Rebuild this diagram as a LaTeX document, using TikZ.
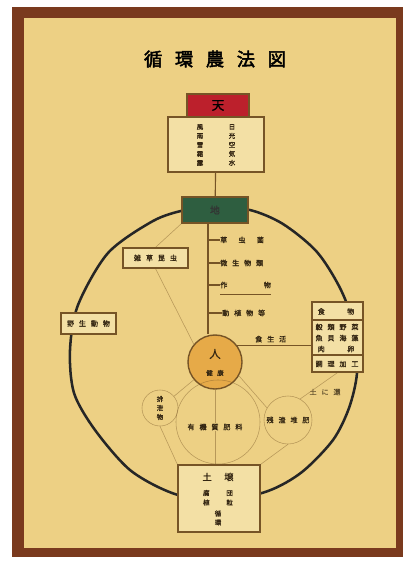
\documentclass[tikz,border=0pt]{standalone}
\usepackage{fontspec}
\usetikzlibrary{positioning}
\newfontfamily\jp[FakeBold=1.2]{Noto Sans CJK JP}
\newfontfamily\jptitle[FakeBold=2.5]{Noto Sans CJK JP}
\newfontfamily\jpwide[LetterSpace=70,FakeBold=1.2]{Noto Sans CJK JP}
\definecolor{paper}{RGB}{237,208,132}
\definecolor{boxpaper}{RGB}{243,224,165}
\definecolor{frame}{RGB}{122,58,30}
\definecolor{ink}{RGB}{118,84,38}
\definecolor{txtink}{RGB}{52,38,18}
\definecolor{tenred}{RGB}{188,32,44}
\definecolor{chigreen}{RGB}{46,94,64}
\definecolor{hitoorange}{RGB}{230,170,72}
\tikzset{
  box/.style={draw=ink, line width=0.9pt, fill=boxpaper, inner sep=0pt},
  txt/.style={text=txtink, inner sep=0pt, font=\jpwide\fontsize{5}{6.4}\selectfont},
  tate/.style={txt, align=center, font=\jp\fontsize{4.6}{6.4}\selectfont},
  faint/.style={draw=ink, line width=0.4pt, opacity=0.45},
  conn/.style={draw=ink, line width=0.8pt}
}
\begin{document}
\begin{tikzpicture}[x=0.025cm,y=-0.025cm]
\useasboundingbox (0,0) rectangle (407,564);
\fill[white] (0,0) rectangle (407,564);
\fill[frame] (12,7) rectangle (403,557);
\fill[paper] (24,18) rectangle (396,548);

% the big cycle
\draw[line width=1.8pt, black!85] plot[smooth cycle] coordinates {
  (213,207) (250,210) (283,224) (317,252) (341,290) (355,330) (357,373)
  (349,408) (333,440) (302,472) (268,491) (218,502) (172,493) (130,470)
  (95,430) (74,393) (70,350) (78,305) (108,253) (153,221) (185,210)};

\node[text=black, inner sep=0pt, font=\jptitle\fontsize{13}{13}\selectfont] (title) at (215,59)
  {循\hspace{9pt}環\hspace{9pt}農\hspace{9pt}法\hspace{9pt}図};

\node[box, fill=tenred, minimum width=1.55cm, minimum height=0.575cm,
  font=\jp\fontsize{9}{9}\selectfont, text=black] (ten) at (218,105.5) {天};
\node[box, minimum width=2.4cm, minimum height=1.375cm] (tenbox) at (216,144.5) {};
\node[tate] (tenl) at (200,145) {風\\雨\\雪\\霜\\露};
\node[tate] (tenr) at (232,145) {日\\光\\空\\気\\水};

\node[box, fill=chigreen, minimum width=1.65cm, minimum height=0.65cm,
  font=\jp\fontsize{7}{7}\selectfont, text=black!80] (chi) at (215,210) {地};

\node[box, fill=hitoorange, circle, minimum size=1.35cm, line width=1pt, align=center]
  (hito) at (215,362) {};
\node[text=txtink, font=\jp\fontsize{8}{8}\selectfont, inner sep=0pt] (hitoa) at (215,354) {人};
\node[txt, font=\jpwide\fontsize{4.6}{5}\selectfont] (hitob) at (215,373) {健康};

% rows beside the trunk
\coordinate (trunk) at (208,225);
\node[txt, anchor=west] (row1) at (220,240) {草\hspace{8pt}虫\hspace{8pt}菌};
\node[txt, anchor=west] (row2) at (220,263) {微生物類};
\node[txt, anchor=west] (row3) at (220,285) {作\hspace{26pt}物};
\node[txt, anchor=west] (row4) at (222,313) {動植物等};

% boxes on the cycle
\node[box, minimum width=1.625cm, minimum height=0.5cm] (ulbox) at (155.5,258) {};
\node[txt] at (ulbox) {雑草昆虫};
\node[box, minimum width=1.375cm, minimum height=0.525cm] (lbox) at (88.5,323.5) {};
\node[txt] at (lbox) {野生動物};
\node[box, minimum width=1.275cm, minimum height=1.75cm] (rbox) at (337.5,337) {};
\draw[ink, line width=0.8pt] (312,320) -- (363,320);
\draw[ink, line width=0.8pt] (312,355) -- (363,355);
\node[txt] (ra) at (336,311.5) {食\hspace{16pt}物};
\node[txt] (rb) at (337,327) {穀類野菜};
\node[txt] (rc) at (337,338) {魚貝海藻};
\node[txt] (rd) at (336,349) {肉\hspace{16pt}卵};
\node[txt] (re) at (337,364) {調理加工};

\node[box, minimum width=2.05cm, minimum height=1.675cm] (bbox) at (219,498.5) {};
\node[txt, font=\jp\fontsize{6.5}{6.5}\selectfont] (ba) at (218,477) {土\hspace{9pt}壌};
\node[txt, font=\jp\fontsize{4.6}{5}\selectfont] (bb) at (218,493) {腐\hspace{12pt}団};
\node[txt, font=\jp\fontsize{4.6}{5}\selectfont] (bc) at (218,502.5) {植\hspace{12pt}粒};
\node[tate] (bd) at (218,518) {循\\環};

% lower field
\node[circle, faint, minimum size=0.9cm] (lcirc) at (160,408) {};
\node[tate] at (lcirc) {排\\泄\\物};
\node[circle, faint, minimum size=1.2cm] (rcirc) at (288,420) {};
\node[txt] at (rcirc) {残渣堆肥};
\node[txt] (mid) at (215,427) {有機質肥料};
\node[txt, opacity=0.6] (back) at (325,392) {土に還};
\draw[faint] (218,422) circle (1.05cm);

% connectors
\draw[conn] (ten) -- (tenbox);
\draw[conn] (tenbox) -- (chi);
\draw[conn, line width=1.1pt] (trunk |- chi.south) -- (trunk |- hito.north);
\draw[conn] (trunk |- row1.west) -- (row1.west);
\draw[conn] (trunk |- row2.west) -- (row2.west);
\draw[conn] (trunk |- row3.west) -- (row3.west);
\draw[conn] (trunk |- row4.west) -- (row4.west);
\draw[conn, line width=0.5pt] ([yshift=-0.23cm]row3.west) -- ([yshift=-0.23cm]row3.east);
\draw[conn] (hito.36) -- (hito.36 -| rbox.west)
  node[txt, pos=0.45, above=2pt] (food) {食生活};
\draw[faint] (chi.south west) -- (ulbox.north);
\draw[faint] (ulbox.south) -- (hito.140);
\draw[faint] (hito.220) -- (lcirc.40);
\draw[faint] (hito.-30) -- (rcirc.150);
\draw[faint] (hito.south) -- (mid.north);
\draw[faint] (mid.south) -- (mid.south |- bbox.north);
\draw[faint] (lcirc.south) -- (bbox.north west);
\draw[faint] (rcirc.south) -- (bbox.north east);
\draw[faint] (rbox.south) -- (rcirc.60);
\end{tikzpicture}
\end{document}
